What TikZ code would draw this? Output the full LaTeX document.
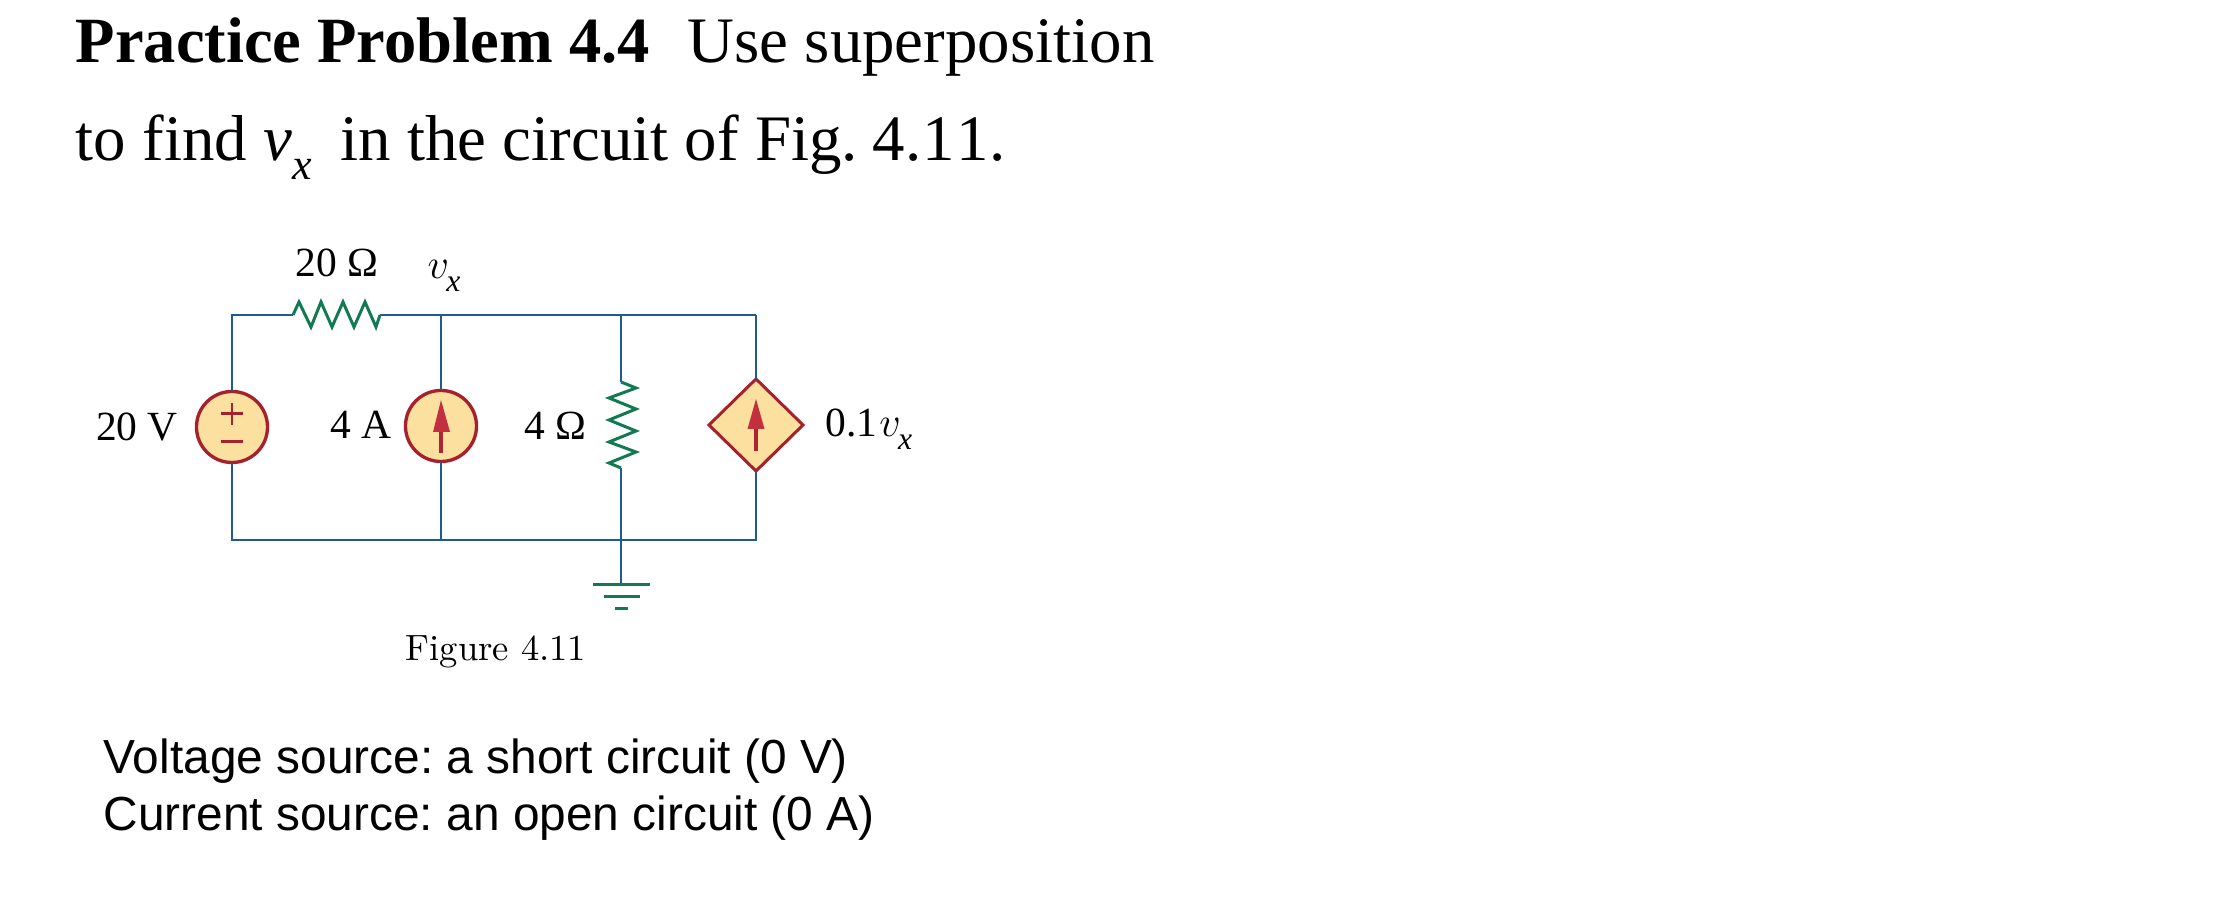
\documentclass[tikz,border=0pt]{standalone}
\usepackage{fontspec}
\newfontfamily\tms{Liberation Serif}
\newfontfamily\arl{Liberation Sans}
\usetikzlibrary{shapes.geometric}
\definecolor{wire}{HTML}{1F5B8E}
\definecolor{resgreen}{HTML}{127A52}
\definecolor{srcred}{HTML}{A6212C}
\definecolor{srcfill}{HTML}{FBE0A0}
\definecolor{arrred}{HTML}{C22F3F}
\newcommand{\vsub}{$v$\kern-0.8pt\raisebox{-0.3em}{\tms\itshape\fontsize{9}{10}\selectfont x}}
\frenchspacing
\tikzset{
  px/.style={x=0.01cm,y=-0.01cm},
  wireline/.style={draw=wire,line width=0.8pt},
  resline/.style={draw=resgreen,line width=0.85pt,line join=miter},
  source/.style={circle,draw=srcred,fill=srcfill,line width=0.95pt,minimum size=0.71cm,inner sep=0pt,outer sep=0pt},
  depsource/.style={diamond,draw=srcred,fill=srcfill,line width=0.85pt,minimum width=0.94cm,minimum height=0.92cm,inner sep=0pt,outer sep=0pt},
  srcmark/.style={draw=srcred,line width=0.85pt},
  arrowhead/.style={fill=arrred,draw=none},
  titletext/.style={anchor=base west,inner sep=0pt,font=\tms\fontsize{18.45}{21}\selectfont},
  notetext/.style={anchor=base west,inner sep=0pt,font=\arl\fontsize{13.6}{16}\selectfont},
  circtext/.style={inner sep=0pt,font=\tms\fontsize{11.8}{14}\selectfont},
}
\begin{document}
\begin{tikzpicture}[px]
\useasboundingbox[fill=white] (0,0) rectangle (2220,898);
% heading
\node[titletext,font=\tms\bfseries\fontsize{18.35}{21}\selectfont] (t1) at (75,63) {Practice Problem 4.4};
\node[titletext] (t2) at (687,63) {Use superposition};
\node[titletext] (t3) at (75,160.5) {to find};
\node[titletext] (t4) at (263,160.5) {\itshape v\raisebox{-0.3em}{\fontsize{12.5}{13}\selectfont x}};
\node[titletext] (t5) at (340,160.5) {in the circuit of Fig. \kern-0.4pt4.\kern0.3pt1\kern0.4pt1\kern0.3pt.};
% circuit nodes
\coordinate (tl) at (232,315);
\coordinate (bl) at (232,540);
\coordinate (topa) at (441,315);
\coordinate (bota) at (441,540);
\coordinate (topb) at (621,315);
\coordinate (botb) at (621,540);
\coordinate (tr) at (756,315);
\coordinate (br) at (756,540);
\coordinate (r1a) at (293,315);
\coordinate (r1b) at (380,315);
\coordinate (r2a) at (621,382);
\coordinate (r2b) at (621,468);
\coordinate (gnd) at (621,585);
\node[source] (vs) at (232,427) {};
\node[source] (is) at (441,426) {};
\node[depsource] (ds) at (756,425) {};
% wires
\draw[wireline,line join=miter] (vs.north) -- (tl) -- (r1a);
\draw[wireline] (r1b) -- (topa) -- (topb) -- (tr);
\draw[wireline,line join=miter] (topb) -- (r2a);
\draw[wireline] (topa) -- (is.north);
\draw[wireline,line join=miter] (tr) -- (ds.north);
\draw[wireline,line join=miter] (vs.south) -- (bl) -- (bota) -- (botb) -- (br) -- (ds.south);
\draw[wireline] (is.south) -- (bota);
\draw[wireline] (r2b) -- (botb) -- (gnd);
% resistors
\draw[resline] (r1a) -- (299,302) -- (311,327) -- (321,302) -- (332,327) -- (343,302) -- (354,327) -- (365,302) -- (376,327) -- (r1b);
\draw[resline] (r2a) -- (636,388) -- (609,398) -- (636,409) -- (609,420) -- (636,431) -- (609,442) -- (636,452) -- (609,463) -- (r2b);
% ground
\draw[resline] (593,585) -- (650,585) (604,597) -- (640,597) (615,609) -- (628,609);
% source marks
\draw[srcmark] (221,414) -- (243,414) (232,403) -- (232,425) (221,442) -- (243,442);
\fill[arrowhead] (441,400) -- (450,432) -- (433,432) -- cycle;
\draw[srcred!70!arrred,line width=1.05pt] (441,432) -- (441,453);
\fill[arrowhead] (756,399) -- (764.5,429) -- (747.5,429) -- cycle;
\draw[srcred!70!arrred,line width=1.05pt] (756,429) -- (756,451);
% labels
\node[circtext] (l1) at (337,263) {20 Ω};
\node[circtext] (l2) at (444,276) {\vsub};
\node[circtext] (l3) at (137,427) {20 V};
\node[circtext] (l4) at (361,425) {4 A};
\node[circtext] (l5) at (555,426) {4 Ω};
\node[circtext,anchor=base west] (l6) at (825,437) {0.1\kern0.5pt\vsub};
\node[inner sep=0pt,anchor=base,font=\fontsize{10.4}{12}\selectfont] (fig) at (496,661) {Figure 4.11};
% notes
\node[notetext] (n1) at (103,773.5) {Voltage source: a short circuit (0 V)};
\node[notetext] (n2) at (103,830.5) {Current source: an open circuit (0 A)};
\end{tikzpicture}
\end{document}
